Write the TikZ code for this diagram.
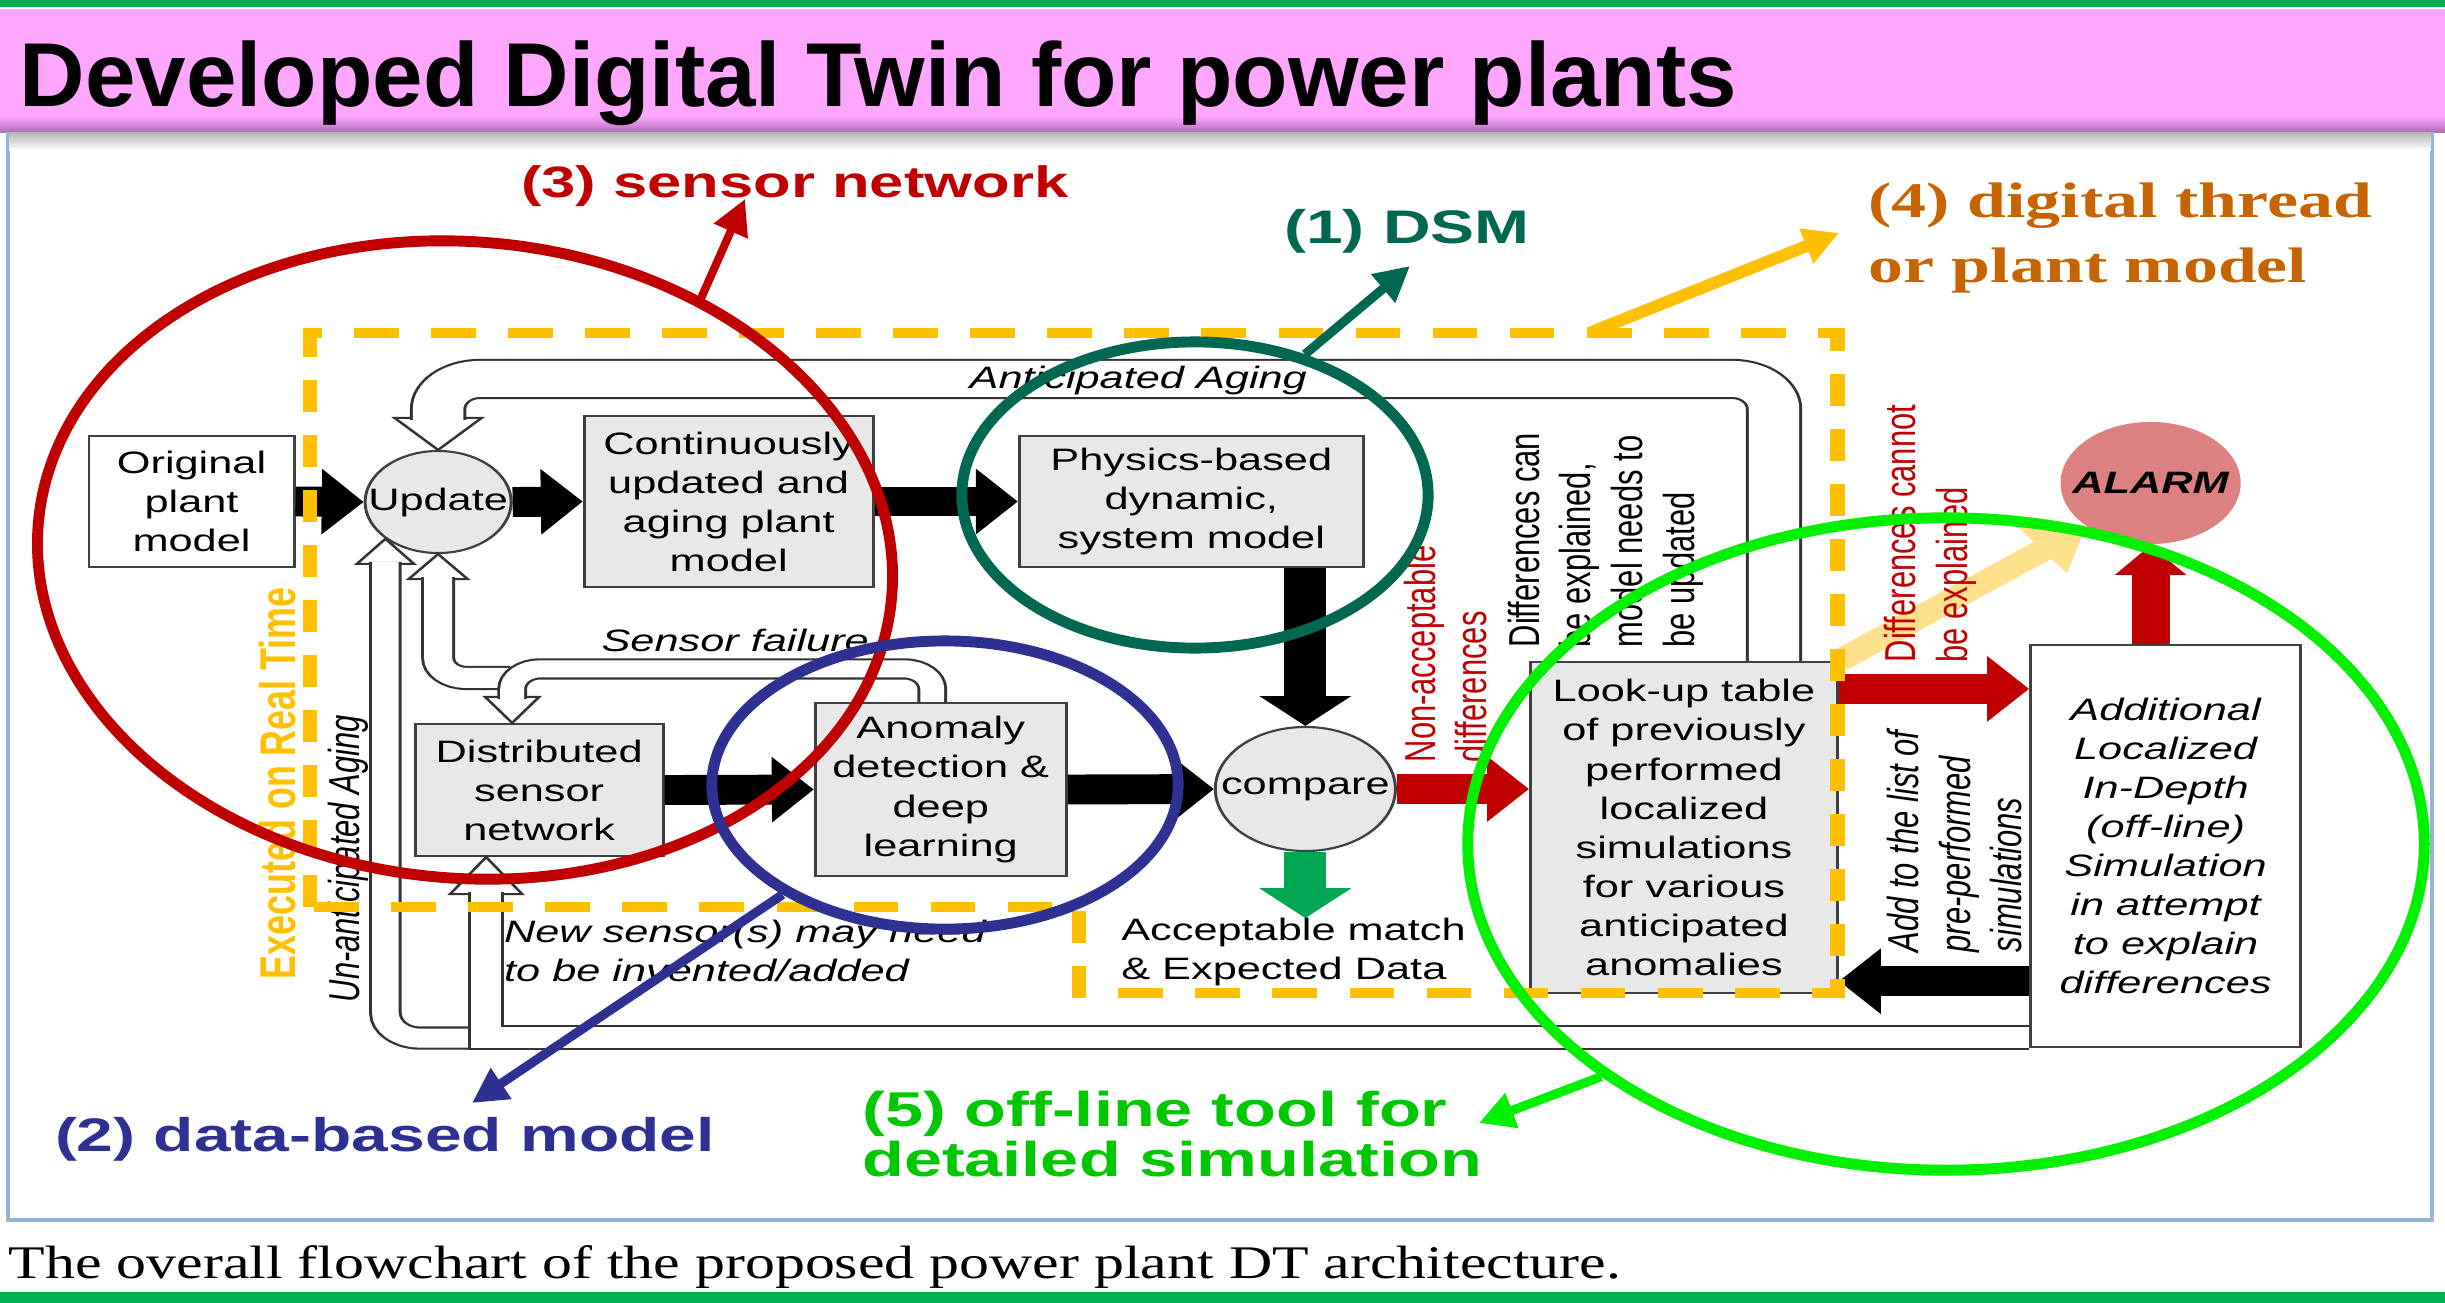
\documentclass[tikz,border=0pt]{standalone}
\usepackage{fontspec}
\setmainfont{Liberation Serif}
\setsansfont{Liberation Sans}
\newfontfamily\capfont[FakeStretch=1.28]{Liberation Serif}
\usetikzlibrary{arrows.meta, shapes.geometric, calc}

\definecolor{stripe}{RGB}{0,176,80}
\definecolor{pinkbar}{RGB}{255,166,255}
\definecolor{barshade}{RGB}{175,110,185}
\definecolor{framebl}{RGB}{149,179,215}
\definecolor{boxgray}{RGB}{232,232,232}
\definecolor{dtyellow}{RGB}{255,192,0}
\definecolor{snred}{RGB}{192,0,0}
\definecolor{dsmteal}{RGB}{0,104,80}
\definecolor{dbblue}{RGB}{46,49,146}
\definecolor{offgreen}{RGB}{0,240,0}
\definecolor{offtext}{RGB}{0,200,0}
\definecolor{thread}{RGB}{200,100,0}
\definecolor{alarmfill}{RGB}{221,128,128}
\definecolor{fadeyel}{RGB}{255,224,140}
\definecolor{okgreen}{RGB}{0,166,81}

\newcommand\dfont{\sffamily\fontsize{8.8}{11.1}\selectfont}
\newcommand\vfont{\sffamily\fontsize{8.8}{10.5}\selectfont}
\newcommand\afont{\sffamily\bfseries\fontsize{13.4}{16}\selectfont}

\tikzset{
	procbox/.style={draw=black!75, fill=boxgray, line width=0.6pt, inner sep=0pt,
		align=center, font=\dfont},
	circnode/.style={ellipse, draw=black!75, fill=boxgray, line width=0.6pt,
		inner sep=0pt, font=\dfont},
	blk/.style={line width=8.5pt, -{Triangle[width=18.2pt,length=8.5pt]}},
	chan/.style={draw=black!80, line width=0.6pt, double=white, double distance=#1},
	hhead/.style={draw=black!80, fill=white, line width=0.6pt},
	vtext/.style={rotate=90, anchor=west, align=left, inner sep=0pt, font=\vfont},
	annell/.style={ellipse, draw=#1, line width=3.1pt, inner sep=0pt},
	annarr/.style={draw=#1, line width=2.6pt, -{Triangle[length=10pt,width=10pt]}}
}

\begin{document}
\begin{tikzpicture}[x=0.01cm, y=-0.01cm, line join=miter]
	\useasboundingbox (0,0) rectangle (2445,1303);
	% slide
	\fill[white] (0,0) rectangle (2445,1303);
	\fill[stripe] (0,0) rectangle (2445,7);
	\fill[stripe] (0,1292) rectangle (2445,1303);
	\fill[pinkbar] (0,9) rectangle (2445,122);
	\shade[top color=pinkbar, bottom color=barshade] (0,116) rectangle (2445,132);
	\draw[framebl, line width=1pt] (8,134) rectangle (2432,1220);
	\shade[top color=black!30, bottom color=white] (9,132) rectangle (2431,150);
	\node[anchor=base west, inner sep=0pt, font=\sffamily\bfseries\fontsize{25.8}{30}\selectfont] (title) at (19,106) {Developed Digital Twin for power plants};
	\node[anchor=base west, inner sep=0pt, font=\capfont\fontsize{13.3}{16}\selectfont] (caption) at (8,1278) {The overall flowchart of the proposed power plant DT architecture.};

	% flowchart (stretched figure)
	\begin{scope}[transform canvas={xscale=1.4}, x=0.0071429cm]
		\node[procbox, fill=white, minimum width=1.464cm, minimum height=1.31cm] (orig) at (191.5,501.5) {Original\\plant\\model};
		\node[circnode, minimum width=1.043cm, minimum height=1.02cm] (upd) at (438,502) {\makebox[0pt]{Update}};
		\node[procbox, minimum width=2.064cm, minimum height=1.71cm] (cont) at (728.5,501.5) {Continuously\\updated and\\aging plant\\model};
		\node[procbox, minimum width=2.457cm, minimum height=1.31cm] (phys) at (1191,501.5) {Physics-based\\dynamic,\\system model};
		\node[circnode, minimum width=1.286cm, minimum height=1.24cm] (cmp) at (1305,789) {\makebox[0pt]{compare}};
		\node[procbox, minimum width=1.771cm, minimum height=1.32cm] (dist) at (539,790) {Distributed\\sensor\\network};
		\node[procbox, minimum width=1.793cm, minimum height=1.73cm] (anom) at (940.5,789.5) {Anomaly\\detection \&\\deep\\learning};
		\node[procbox, minimum width=2.193cm, minimum height=3.31cm] (look) at (1683.5,827.5) {Look-up table\\of previously\\performed\\localized\\simulations\\for various\\anticipated\\anomalies};
		\node[procbox, fill=white, minimum width=1.929cm, minimum height=4.02cm, font=\dfont\itshape] (addl) at (2165,846) {Additional\\Localized\\In-Depth\\(off-line)\\Simulation\\in attempt\\to explain\\differences};
		\node[circnode, draw=none, fill=alarmfill, minimum width=1.286cm, minimum height=1.22cm, font=\dfont\bfseries\itshape] (alarm) at (2150,483) {\makebox[0pt]{ALARM}};

		% hollow feedback arrows
		\coordinate (hAA) at (upd.north);
		\coordinate (hSF) at ($(dist.north)+(-27,0)$);
		\coordinate (hSU) at (upd.south);
		\coordinate (hUA) at (upd.south west);
		\coordinate (hUL) at ($(dist.south)+(-53,0)$);
		\foreach \c/\w/\d in {hAA/43.5/-32, hSF/27/-26, hSU/29.5/25, hUA/28.5/25, hUL/36/37}
			\draw[hhead] ($(\c)+(-\w,\d)$) -- (\c) -- ($(\c)+(\w,\d)$) -- cycle;
		\draw[chan=0.36cm, rounded corners=0.3cm] ($(look.north)+(90,0)$) |- ($(hAA)+(0,-71)$) -- ($(hAA)+(0,-30)$);
		\draw[chan=0.2cm, rounded corners=0.2cm] ($(hSF)+(-2,-45)$) -| ($(hSU)+(0,23)$);
		\draw[chan=0.17cm, rounded corners=0.2cm] ($(anom.north)+(-8.5,0)$) -- ++(0,-33) -| ($(hSF)+(0,-24)$);
		\draw[chan=0.19cm, rounded corners=0.25cm] ($(hUL)+(-8,181)$) -| ($(hUA)+(0,23)$);
		\draw[chan=0.21cm] ($(addl.south west)+(0,-11)$) -| ($(hUL)+(0,35)$);

		% block arrows
		\draw[line width=6pt, fadeyel, -{Triangle[width=15.6pt,length=11pt]}] (look.north east) -- (alarm.south west);
		\draw[blk] (orig.east) -- (upd.west);
		\draw[blk] (upd.east) -- (cont.west);
		\draw[blk] (cont.east) -- (phys.west);
		\draw[blk] (cmp.north |- phys.south) -- (cmp.north);
		\draw[blk] (dist.east) -- (anom.west);
		\draw[blk] (anom.east) -- (cmp.west);
		\coordinate (acc) at ($(cmp.south)+(0,66)$);
		\draw[blk, okgreen] (cmp.south) -- (acc);
		\draw[blk, snred] (cmp.east) -- (cmp.east -| look.west);
		\coordinate (lk1) at ($(look.north east)+(0,28)$);
		\draw[blk, snred] (lk1) -- (lk1 -| addl.west);
		\coordinate (ad1) at ($(addl.south west)+(0,-67)$);
		\draw[blk] (ad1) -- (ad1 -| look.east);
		\draw[snred, line width=7.7pt, -{Triangle[width=14pt,length=8.5pt]}] (alarm.south |- addl.north) -- (alarm.south);

		% labels
		\node[font=\dfont\itshape, inner sep=0pt] (aalbl) at (1138,380) {Anticipated Aging};
		\node[font=\dfont\itshape, inner sep=0pt] (sflbl) at (735,640) {Sensor failure};
		\node[font=\dfont\itshape, inner sep=0pt, align=left, anchor=west] (newlbl) at (503,951) {New sensor(s) may need\\to be invented/added};
		\node[font=\dfont, inner sep=0pt, align=left, anchor=west] (acclbl) at (1120,952) {Acceptable match\\\& Expected Data};
		\node[vtext, font=\vfont\itshape] (ualbl) at (348,1003) {Un-anticipated Aging};
		\node[vtext, text=snred] (nalbl) at (1445,763) {Non-acceptable\\differences};
		\node[vtext] (dclbl) at (1605,648) {Differences can\\be explained,\\model needs to\\be updated};
		\node[vtext, text=snred] (dnlbl) at (1930,663) {Differences cannot\\be explained};
		\node[vtext, font=\vfont\itshape] (addlbl) at (1954,953) {Add to the list of\\pre-performed\\simulations};
		\node[vtext, text=dtyellow, font=\sffamily\bfseries\fontsize{10.2}{12}\selectfont] (rtlbl) at (277,980) {Executed on Real Time};

		% digital thread region
		\draw[dtyellow, line width=2.85pt, dash pattern=on 0.32cm off 0.23cm] (310,907) -- (310,333) -- (1837,333) -- (1837,993) -- (1079,993) -- (1079,907) -- cycle;

		% annotation texts
		\node[anchor=base west, inner sep=0pt, text=snred, font=\sffamily\bfseries\fontsize{12.5}{15}\selectfont] (lbl3) at (520,197) {(3) sensor network};
		\node[anchor=base west, inner sep=0pt, text=dsmteal, font=\afont] (lbl1) at (1283,243) {(1) DSM};
		\node[anchor=north west, inner sep=0pt, align=left, text=thread, font=\rmfamily\bfseries\fontsize{14.2}{18.5}\selectfont] (lbl4) at (1867,182) {(4) digital thread\\or plant model};
		\node[anchor=base west, inner sep=0pt, text=dbblue, font=\afont] (lbl2) at (54,1151) {(2) data-based model};
		\node[anchor=north west, inner sep=0pt, align=left, text=offtext, font=\sffamily\bfseries\fontsize{13.9}{14.2}\selectfont] (lbl5) at (861,1090) {(5) off-line tool for\\detailed simulation};
	\end{scope}

	% annotation rings
	\node[annell=snred, minimum width=8.56cm, minimum height=6.36cm, rotate=-5] (ell3) at (465,560) {};
	\node[annell=dsmteal, minimum width=4.66cm, minimum height=3.06cm] (ell1) at (1195,495) {};
	\node[annell=dbblue, minimum width=4.66cm, minimum height=2.88cm] (ell2) at (945,785) {};
	\node[annell=offgreen, minimum width=9.56cm, minimum height=6.52cm] (ell5) at (1946,844) {};
	\coordinate (t3) at (745,199);
	\coordinate (t1) at (1410,266);
	\coordinate (t4s) at (1589,333);
	\coordinate (t4) at (1839,233);
	\coordinate (t2) at (472,1103);
	\coordinate (t5) at (1479,1123);
	\draw[annarr=snred, line width=2.3pt] (ell3.53) -- (t3);
	\draw[annarr=dsmteal] (ell1.52) -- (t1);
	\draw[annarr=dtyellow, line width=3.4pt] (t4s) -- (t4);
	\draw[annarr=dbblue] (ell2.214) -- (t2);
	\draw[annarr=offgreen] (ell5.214) -- (t5);
\end{tikzpicture}
\end{document}
